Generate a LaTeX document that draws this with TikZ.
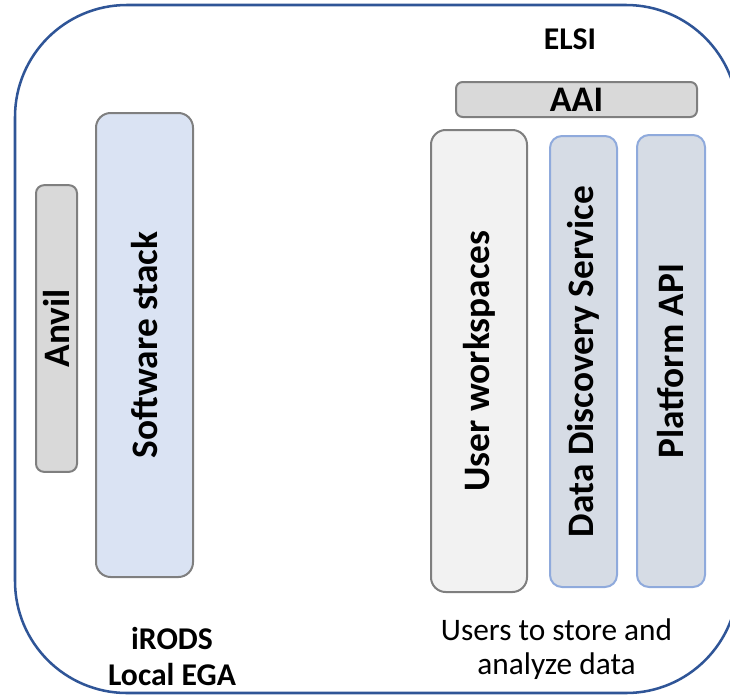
\documentclass[tikz,border=0pt]{standalone}
\usepackage{fontspec}
\setmainfont{Carlito}
\usepackage{tikz}
\usetikzlibrary{positioning}
\definecolor{frame}{HTML}{2F5597}
\definecolor{edge}{HTML}{7F7F7F}
\definecolor{softblue}{HTML}{8FAADC}
\definecolor{lightgray}{HTML}{D9D9D9}
\definecolor{paleblue}{HTML}{DAE3F3}
\definecolor{whitegray}{HTML}{F2F2F2}
\definecolor{slate}{HTML}{D6DCE5}
\tikzset{
    column/.style={rectangle, draw=edge, line width=1.5pt, rounded corners=11pt, rotate=90, inner sep=0pt, align=center, font=\fontsize{28}{32}\selectfont\bfseries},
    service/.style={column, draw=softblue, fill=slate, rounded corners=9pt},
    caption/.style={align=center, inner sep=0pt, font=\fontsize{23.5}{26}\selectfont}
}

\begin{document}
\begin{tikzpicture}[x=0.75pt, y=-0.75pt]
\useasboundingbox (0,0) rectangle (730,696);

% Outer frame
\node[rectangle, draw=frame, line width=1.9pt, rounded corners=84pt, minimum width=542.25pt, minimum height=516pt] at (376.5,349) (platform) {};

% Left side
\node[column, fill=lightgray, rounded corners=6pt, minimum width=215pt, minimum height=30.75pt] at (56.5,328.5) (anvil) {Anvil};
\node[column, fill=paleblue, minimum width=348pt, minimum height=72.75pt] at (144.5,345) (stack) {Software stack};
\node[caption, font=\fontsize{23.75}{27}\selectfont\bfseries] at (172,656) (irods) {iRODS\\Local EGA};

% Right side
\node[caption, font=\fontsize{23.75}{27}\selectfont\bfseries] at (570,39) (elsi) {ELSI};
\node[rectangle, draw=edge, fill=lightgray, line width=1.5pt, rounded corners=5pt, inner sep=0pt, minimum width=180.75pt, minimum height=26.25pt, font=\fontsize{27}{30}\selectfont\bfseries] at (576.5,99.5) (aai) {AAI};
\node[column, fill=whitegray, minimum width=346.5pt, minimum height=72pt] at (479,361) (work) {User workspaces};
\node[service, minimum width=338.25pt, minimum height=50.25pt] at (583.5,361.5) (dds) {Data Discovery Service};
\node[service, minimum width=339pt, minimum height=51pt] at (671,361) (api) {Platform API};
\node[caption] at (556.5,649) (users) {Users to store and\\analyze data};

\end{tikzpicture}
\end{document}
